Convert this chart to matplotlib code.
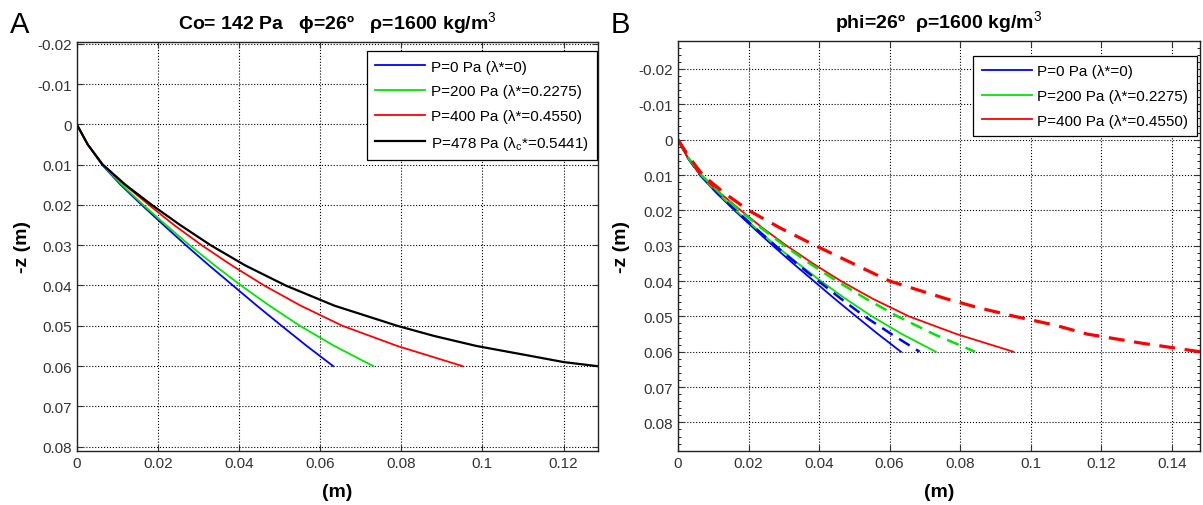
import numpy as np
import matplotlib
matplotlib.use("Agg")
import matplotlib.pyplot as plt
from matplotlib.ticker import MultipleLocator

plt.rcParams['font.family'] = ['Liberation Sans', 'DejaVu Sans']
plt.rcParams['mathtext.fontset'] = 'custom'
plt.rcParams['mathtext.rm'] = 'Liberation Sans'
plt.rcParams['mathtext.it'] = 'Liberation Sans:italic'
plt.rcParams['mathtext.bf'] = 'Liberation Sans:bold'

# depth values (m) shared by most curves
depth = [0.0, 0.005, 0.01, 0.015, 0.02, 0.025, 0.03, 0.035, 0.04, 0.045, 0.05, 0.055, 0.06]

# horizontal distance (m) for each load case (solid curves)
x_p0 = [0.0, 0.0027, 0.0062, 0.0108, 0.0160, 0.0214, 0.0269, 0.0326, 0.0385, 0.0444, 0.0505, 0.0567, 0.0632]
x_p200 = [0.0, 0.0027, 0.0063, 0.0111, 0.0164, 0.0220, 0.0278, 0.0340, 0.0405, 0.0475, 0.0550, 0.0635, 0.0731]
x_p400 = [0.0, 0.0027, 0.0064, 0.0118, 0.0178, 0.0240, 0.0308, 0.0382, 0.0462, 0.0552, 0.0655, 0.0790, 0.0951]

# critical case, denser near the end where it flattens
depth_c = [0.0, 0.005, 0.01, 0.015, 0.02, 0.025, 0.03, 0.035, 0.04, 0.045, 0.05, 0.0525, 0.055, 0.0575, 0.059, 0.06]
x_p478 = [0.0, 0.0027, 0.0064, 0.0120, 0.0185, 0.0255, 0.0330, 0.0415, 0.0515, 0.0635, 0.0790, 0.0880, 0.0985, 0.1120, 0.1200, 0.1282]

# panel B dashed curves
x_p0_d = [0.0, 0.0027, 0.0063, 0.0111, 0.0164, 0.0219, 0.0276, 0.0336, 0.0398, 0.0462, 0.0529, 0.0605, 0.0685]
x_p200_d = [0.0, 0.0028, 0.0066, 0.0117, 0.0174, 0.0236, 0.0302, 0.0373, 0.0450, 0.0533, 0.0623, 0.0725, 0.0842]
depth_d = [0.0, 0.005, 0.01, 0.015, 0.02, 0.025, 0.03, 0.035, 0.04, 0.045, 0.0475, 0.05, 0.0525, 0.055, 0.0575, 0.06]
x_p400_d = [0.0, 0.0032, 0.0070, 0.0130, 0.0200, 0.0290, 0.0390, 0.0495, 0.0600, 0.0760, 0.0850, 0.0955, 0.1070, 0.1160, 0.1310, 0.1480]

labels_a = ['P=0 Pa (λ*=0)', 'P=200 Pa (λ*=0.2275)', 'P=400 Pa (λ*=0.4550)',
            r'P=478 Pa (λ$_\mathrm{c}$*=0.5441)']
labels_b = labels_a[:3]

blue, green, red = '#0000ff', '#00e600', '#ff0000'

fig = plt.figure(figsize=(12.03, 5.06), dpi=100)
ax1 = fig.add_axes([0.0638, 0.1073, 0.4333, 0.8083])
ax2 = fig.add_axes([0.5636, 0.1073, 0.4339, 0.8103])


def style(ax, ylab_x):
    ax.grid(True, linestyle=':', color='black', linewidth=0.8)
    ax.tick_params(direction='in', top=True, right=True, labelsize=11,
                   colors='#333333', length=4)
    for s in ax.spines.values():
        s.set_linewidth(1.0)
        s.set_color('#222222')
    ax.set_xlabel('(m)', fontsize=14, fontweight='bold', labelpad=10)
    ax.set_ylabel('-z (m)', fontsize=14, fontweight='bold')
    ax.yaxis.set_label_coords(ylab_x, 0.5)
    ax.xaxis.set_major_locator(MultipleLocator(0.02))
    ax.yaxis.set_major_locator(MultipleLocator(0.01))
    ax.xaxis.set_major_formatter(plt.FuncFormatter(lambda v, p: f'{v:g}'))
    ax.yaxis.set_major_formatter(plt.FuncFormatter(lambda v, p: f'{round(v, 3):g}'))


def add_legend(ax, anchor):
    leg = ax.legend(loc='upper right', bbox_to_anchor=anchor, borderaxespad=0,
                    fontsize=11, handlelength=3.3, handletextpad=0.35,
                    borderpad=0.55, fancybox=False, framealpha=1,
                    edgecolor='black', labelspacing=0.7)
    leg.get_frame().set_linewidth(0.9)


# Panel A
ax1.plot(x_p0, depth, color=blue, lw=1.3, label=labels_a[0])
ax1.plot(x_p200, depth, color=green, lw=1.3, label=labels_a[1])
ax1.plot(x_p400, depth, color=red, lw=1.3, label=labels_a[2])
ax1.plot(x_p478, depth_c, color='black', lw=1.6, label=labels_a[3])
ax1.set_xlim(0, 0.1285)
ax1.set_ylim(0.081, -0.0205)
style(ax1, -0.088)
add_legend(ax1, (0.998, 0.977))
ax1.set_title('Co= 142 Pa   ϕ=26º   ρ=1600 kg/m$^3$', fontsize=14, fontweight='bold', pad=10)
fig.text(0.008, 0.935, 'A', fontsize=21)

# Panel B
ax2.plot(x_p0, depth, color=blue, lw=1.3, label=labels_b[0])
ax2.plot(x_p200, depth, color=green, lw=1.3, label=labels_b[1])
ax2.plot(x_p400, depth, color=red, lw=1.3, label=labels_b[2])
ax2.plot(x_p0_d, depth, color=blue, lw=1.8, ls=(0, (5, 3)))
ax2.plot(x_p200_d, depth, color=green, lw=1.8, ls=(0, (5, 3)))
ax2.plot(x_p400_d, depth_d, color=red, lw=2.3, ls=(0, (5, 3)))
ax2.set_xlim(0, 0.148)
ax2.set_ylim(0.088, -0.028)
style(ax2, -0.092)
ax2.yaxis.set_minor_locator(MultipleLocator(0.002))
ax2.tick_params(axis='y', which='minor', direction='in', length=2, left=True, right=True)
add_legend(ax2, (0.994, 0.963))
ax2.set_title('phi=26º  ρ=1600 kg/m$^3$', fontsize=14, fontweight='bold', pad=10)
fig.text(0.508, 0.935, 'B', fontsize=21)

fig.savefig('out.png', dpi=100)
